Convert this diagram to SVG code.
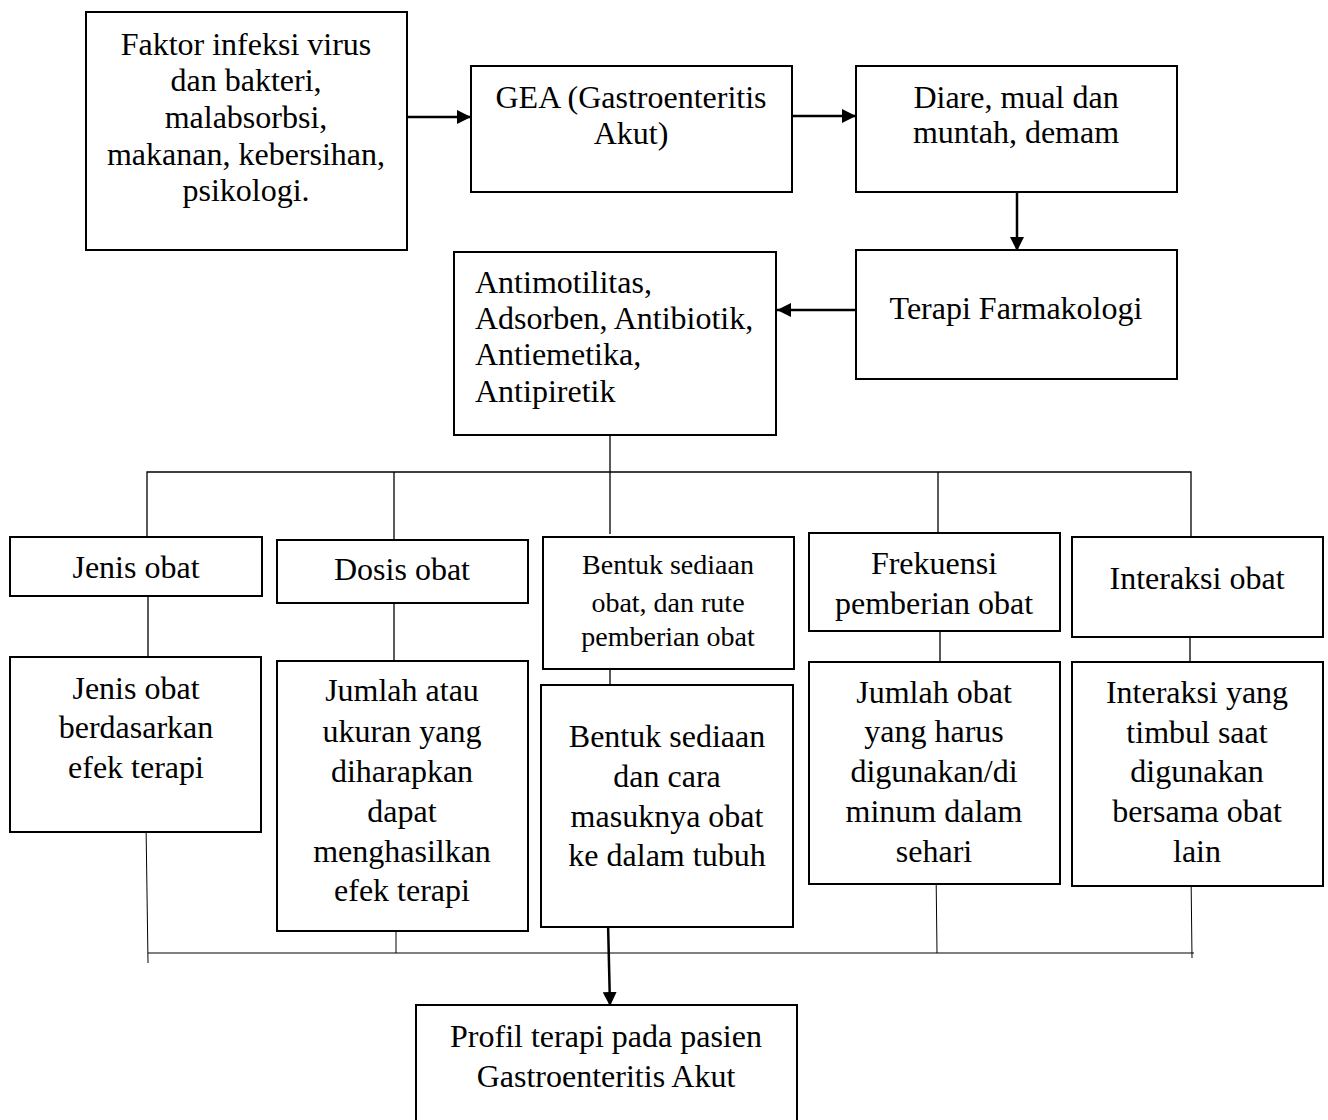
<svg xmlns="http://www.w3.org/2000/svg" width="1328" height="1120" viewBox="0 0 1328 1120">
<style>
.box{fill:#fff;stroke:#000;stroke-width:2}
.t{font-family:"Liberation Serif","Times New Roman",serif;font-size:32px;fill:#000;text-anchor:middle}
.ts{font-family:"Liberation Serif","Times New Roman",serif;font-size:28px;fill:#000;text-anchor:middle}
.tl{font-family:"Liberation Serif","Times New Roman",serif;font-size:32px;fill:#000}
.ln{stroke:#000;stroke-width:1.3;fill:none}
.lt{stroke:#000;stroke-width:1;fill:none}
.ar{stroke:#000;stroke-width:2.5;fill:none}
</style>
<defs>
<marker id="ah2" markerWidth="14" markerHeight="14" refX="14" refY="7" orient="auto" markerUnits="userSpaceOnUse" viewBox="0 0 14 14">
<path d="M0,0 L14,7 L0,14 Z" fill="#000"/>
</marker>
</defs>
<rect width="1328" height="1120" fill="#fff"/>
<g id="connectors">
<line class="ar" x1="407" y1="117" x2="471" y2="117" marker-end="url(#ah2)"/>
<line class="ar" x1="792" y1="116" x2="856" y2="116" marker-end="url(#ah2)"/>
<line class="ar" x1="1017" y1="185" x2="1017" y2="251" marker-end="url(#ah2)"/>
<line class="ar" x1="855" y1="310" x2="777" y2="310" marker-end="url(#ah2)"/>
<line class="ln" x1="610" y1="425" x2="610" y2="534"/>
<polyline class="ln" points="147,537 147,472 1191,472 1191,537"/>
<line class="ln" x1="394" y1="472" x2="394" y2="540"/>
<line class="ln" x1="938" y1="472" x2="938" y2="533"/>
<line class="ln" x1="148" y1="593" x2="148" y2="657"/>
<line class="ln" x1="394" y1="598" x2="394" y2="661"/>
<line class="ln" x1="610" y1="668" x2="610" y2="685"/>
<line class="ln" x1="940" y1="627" x2="940" y2="662"/>
<line class="ln" x1="1190" y1="626" x2="1190" y2="662"/>
<line class="lt" x1="146" y1="823" x2="148" y2="963"/>
<line class="lt" x1="396" y1="916" x2="396" y2="953"/>
<line class="lt" x1="936" y1="868" x2="937" y2="953"/>
<line class="lt" x1="1191" y1="872" x2="1192" y2="958"/>
<line class="lt" x1="148" y1="953" x2="1194" y2="953"/>
<line class="lt" x1="608" y1="908" x2="608" y2="925"/>
<line class="ar" x1="608" y1="922" x2="610" y2="1006" marker-end="url(#ah2)"/>
</g>
<g id="n-faktor">
<rect class="box" x="86" y="12" width="321" height="238"/>
<text class="t" x="246" y="55">Faktor infeksi virus</text>
<text class="t" x="246" y="91">dan bakteri,</text>
<text class="t" x="246" y="128">malabsorbsi,</text>
<text class="t" x="246" y="165">makanan, kebersihan,</text>
<text class="t" x="246" y="201">psikologi.</text>
</g>
<g id="n-gea">
<rect class="box" x="471" y="66" width="321" height="126"/>
<text class="t" x="631" y="108">GEA (Gastroenteritis</text>
<text class="t" x="631" y="144">Akut)</text>
</g>
<g id="n-diare">
<rect class="box" x="856" y="66" width="321" height="126"/>
<text class="t" x="1016" y="108">Diare, mual dan</text>
<text class="t" x="1016" y="143">muntah, demam</text>
</g>
<g id="n-terapi">
<rect class="box" x="856" y="250" width="321" height="129"/>
<text class="t" x="1016" y="319">Terapi Farmakologi</text>
</g>
<g id="n-anti">
<rect class="box" x="454" y="252" width="322" height="183"/>
<text class="tl" x="475" y="293">Antimotilitas,</text>
<text class="tl" x="475" y="329">Adsorben, Antibiotik,</text>
<text class="tl" x="475" y="365">Antiemetika,</text>
<text class="tl" x="475" y="402">Antipiretik</text>
</g>
<g id="n-jenis">
<rect class="box" x="10" y="537" width="252" height="59"/>
<text class="t" x="136" y="578">Jenis obat</text>
</g>
<g id="n-dosis">
<rect class="box" x="277" y="540" width="251" height="63"/>
<text class="t" x="402" y="580">Dosis obat</text>
</g>
<g id="n-bentuk">
<rect class="box" x="543" y="537" width="251" height="132"/>
<text class="ts" x="668" y="574">Bentuk sediaan</text>
<text class="ts" x="668" y="612">obat, dan rute</text>
<text class="ts" x="668" y="646">pemberian obat</text>
</g>
<g id="n-frek">
<rect class="box" x="809" y="533" width="251" height="98"/>
<text class="t" x="934" y="574">Frekuensi</text>
<text class="t" x="934" y="614">pemberian obat</text>
</g>
<g id="n-inter">
<rect class="box" x="1072" y="537" width="251" height="100"/>
<text class="t" x="1197" y="589">Interaksi obat</text>
</g>
<g id="n-jenis2">
<rect class="box" x="10" y="657" width="251" height="175"/>
<text class="t" x="136" y="699">Jenis obat</text>
<text class="t" x="136" y="738">berdasarkan</text>
<text class="t" x="136" y="778">efek terapi</text>
</g>
<g id="n-jumlah">
<rect class="box" x="277" y="661" width="251" height="270"/>
<text class="t" x="402" y="701">Jumlah atau</text>
<text class="t" x="402" y="742">ukuran yang</text>
<text class="t" x="402" y="782">diharapkan</text>
<text class="t" x="402" y="822">dapat</text>
<text class="t" x="402" y="862">menghasilkan</text>
<text class="t" x="402" y="901">efek terapi</text>
</g>
<g id="n-bentuk2">
<rect class="box" x="541" y="685" width="252" height="242"/>
<text class="t" x="667" y="747">Bentuk sediaan</text>
<text class="t" x="667" y="787">dan cara</text>
<text class="t" x="667" y="827">masuknya obat</text>
<text class="t" x="667" y="866">ke dalam tubuh</text>
</g>
<g id="n-jumlahobat">
<rect class="box" x="809" y="662" width="251" height="222"/>
<text class="t" x="934" y="703">Jumlah obat</text>
<text class="t" x="934" y="742">yang harus</text>
<text class="t" x="934" y="782">digunakan/di</text>
<text class="t" x="934" y="822">minum dalam</text>
<text class="t" x="934" y="862">sehari</text>
</g>
<g id="n-interaksi2">
<rect class="box" x="1072" y="662" width="251" height="224"/>
<text class="t" x="1197" y="703">Interaksi yang</text>
<text class="t" x="1197" y="743">timbul saat</text>
<text class="t" x="1197" y="782">digunakan</text>
<text class="t" x="1197" y="822">bersama obat</text>
<text class="t" x="1197" y="862">lain</text>
</g>
<g id="n-profil">
<rect class="box" x="416" y="1005" width="381" height="130"/>
<text class="t" x="606" y="1047">Profil terapi pada pasien</text>
<text class="t" x="606" y="1087">Gastroenteritis Akut</text>
</g>
</svg>
